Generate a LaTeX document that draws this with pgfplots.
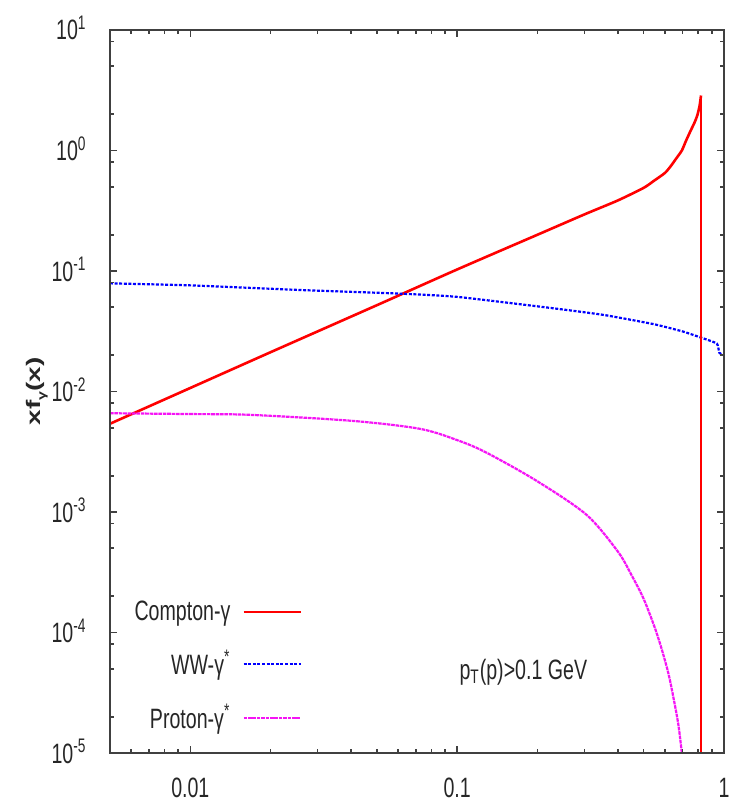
\documentclass[border=0pt]{standalone}
\usepackage{fontspec}
\setmainfont{Liberation Sans}[FakeStretch=0.7]
\newfontfamily\ylfont{Liberation Sans}
\usepackage{graphicx}
\usepackage{pgfplots}
\pgfplotsset{compat=1.18}

\pgfplotstableread{
x y
0.005 5.4e-3
0.01 1.07e-2
0.02 2.12e-2
0.05 5.2e-2
0.1 0.103
0.2 0.2
0.3 0.295
0.4 0.385
0.5 0.49
0.546 0.56
0.6 0.65
0.631 0.74
0.66 0.85
0.695 1.0
0.72 1.2
0.751 1.47
0.775 1.7
0.794 1.95
0.81 2.35
0.82 2.86
}\comptontable

\pgfplotstableread{
x y
0.82 2.86
0.82 1e-6
}\comptonedgetable

\pgfplotstableread{
x y
0.005 0.079
0.01 0.076
0.026 0.0695
0.06 0.065
0.1 0.061
0.23 0.049
0.354 0.0432
0.546 0.0362
0.7 0.0315
0.82 0.0280
0.94 0.025
0.96 0.021
1.0 0.020
}\wwtable

\pgfplotstableread{
x y
0.005 6.6e-3
0.01 6.5e-3
0.0168 6.4e-3
0.0407 5.7e-3
0.0726 4.9e-3
0.1 3.95e-3
0.128 3.13e-3
0.198 1.82e-3
0.305 9.5e-4
0.40 4.7e-4
0.45 3.0e-4
0.50 1.9e-4
0.55 1.1e-4
0.585 7.2e-5
0.62 4.5e-5
0.649 2.75e-5
0.675 1.7e-5
0.695 1.0e-5
}\protontable

\begin{document}
\begin{tikzpicture}
\begin{axis}[
  at={(55pt,24.5pt)},
  scale only axis, width=307pt, height=361.5pt,
  xmode=log, ymode=log,
  xmin=0.005, xmax=1, ymin=1e-5, ymax=10,
  axis line style={black!75, line width=0.9pt},
  tick align=inside,
  major tick length=3.5pt, minor tick length=2pt,
  tick style={black!75, line width=0.8pt},
  xtick={0.01,0.1,1},
  xticklabels={0.01,0.1,1},
  ytick={1e-5,1e-4,1e-3,1e-2,1e-1,1,10},
  yticklabels={10\textsuperscript{-5},10\textsuperscript{-4},10\textsuperscript{-3},10\textsuperscript{-2},10\textsuperscript{-1},10\textsuperscript{0},10\textsuperscript{1}},
  minor xtick={0.006,0.007,0.008,0.009,0.02,0.03,0.04,0.05,0.06,0.07,0.08,0.09,0.2,0.3,0.4,0.5,0.6,0.7,0.8,0.9},
  minor ytick={2e-5,5e-5,8e-5,2e-4,5e-4,8e-4,2e-3,5e-3,8e-3,2e-2,5e-2,8e-2,0.2,0.5,0.8,2,5,8},
  tick label style={font=\fontsize{14}{16}\selectfont, black!85},
  xticklabel style={anchor=base, inner sep=0pt, yshift=-22pt},
  yticklabel style={anchor=base east, inner sep=0pt, xshift=-11.5pt, yshift=-5pt},
  ylabel={\scalebox{1}[0.7]{\ylfont\bfseries\fontsize{14}{16}\selectfont xf\raisebox{-0.5ex}{\fontsize{8}{9}\selectfont γ}(x)}},
  ylabel style={at={(axis description cs:-0.119,0.5)}, anchor=center, black!85},
  legend style={at={(axis description cs:0.3127,0.1203)}, anchor=east, draw=none, fill=none,
    inner sep=0pt, outer sep=0pt, row sep=9.5pt, column sep=4pt,
    font=\fontsize{14}{16}\selectfont, text=black!85},
  legend plot pos=right, legend cell align=right,
  legend image code/.code={\draw[#1] (0pt,0pt) -- (28.5pt,0pt);},
]
\addplot[red, line width=1.3pt, smooth, tension=0.4] table[x=x,y=y] {\comptontable};
\addlegendentry{Compton-γ}
\addplot[blue, line width=1.1pt, dash pattern=on 1.5pt off 0.8pt, smooth, tension=0.3] table[x=x,y=y] {\wwtable};
\addlegendentry{WW-γ\textsuperscript{*}}
\addplot[color={rgb,255:red,245;green,20;blue,245}, line width=1.1pt, dash pattern=on 1.8pt off 0.4pt, smooth, tension=0.5] table[x=x,y=y] {\protontable};
\addlegendentry{Proton-γ\textsuperscript{*}}
\addplot[red, line width=1.1pt, forget plot] table[x=x,y=y] {\comptonedgetable};
\node[font=\fontsize{14}{16}\selectfont, text=black!85, anchor=center] at (axis cs:0.177,4.7e-5) {p\textsubscript{T}(p)>0.1 GeV};
\end{axis}
% overlay axis: only the frame and the tick marks
\begin{axis}[
  at={(55pt,24.5pt)},
  scale only axis, width=307pt, height=361.5pt,
  xmode=log, ymode=log,
  xmin=0.005, xmax=1, ymin=1e-5, ymax=10,
  axis line style={black!75, line width=0.9pt},
  tick align=inside,
  major tick length=3.5pt, minor tick length=2pt,
  tick style={black!75, line width=0.8pt},
  xtick={0.01,0.1,1},
  ytick={1e-5,1e-4,1e-3,1e-2,1e-1,1,10},
  minor xtick={0.006,0.007,0.008,0.009,0.02,0.03,0.04,0.05,0.06,0.07,0.08,0.09,0.2,0.3,0.4,0.5,0.6,0.7,0.8,0.9},
  minor ytick={2e-5,5e-5,8e-5,2e-4,5e-4,8e-4,2e-3,5e-3,8e-3,2e-2,5e-2,8e-2,0.2,0.5,0.8,2,5,8},
  xticklabels={}, yticklabels={},
]
\end{axis}
\path (0pt,0pt) rectangle (365.5pt,401pt);
\end{tikzpicture}
\end{document}
